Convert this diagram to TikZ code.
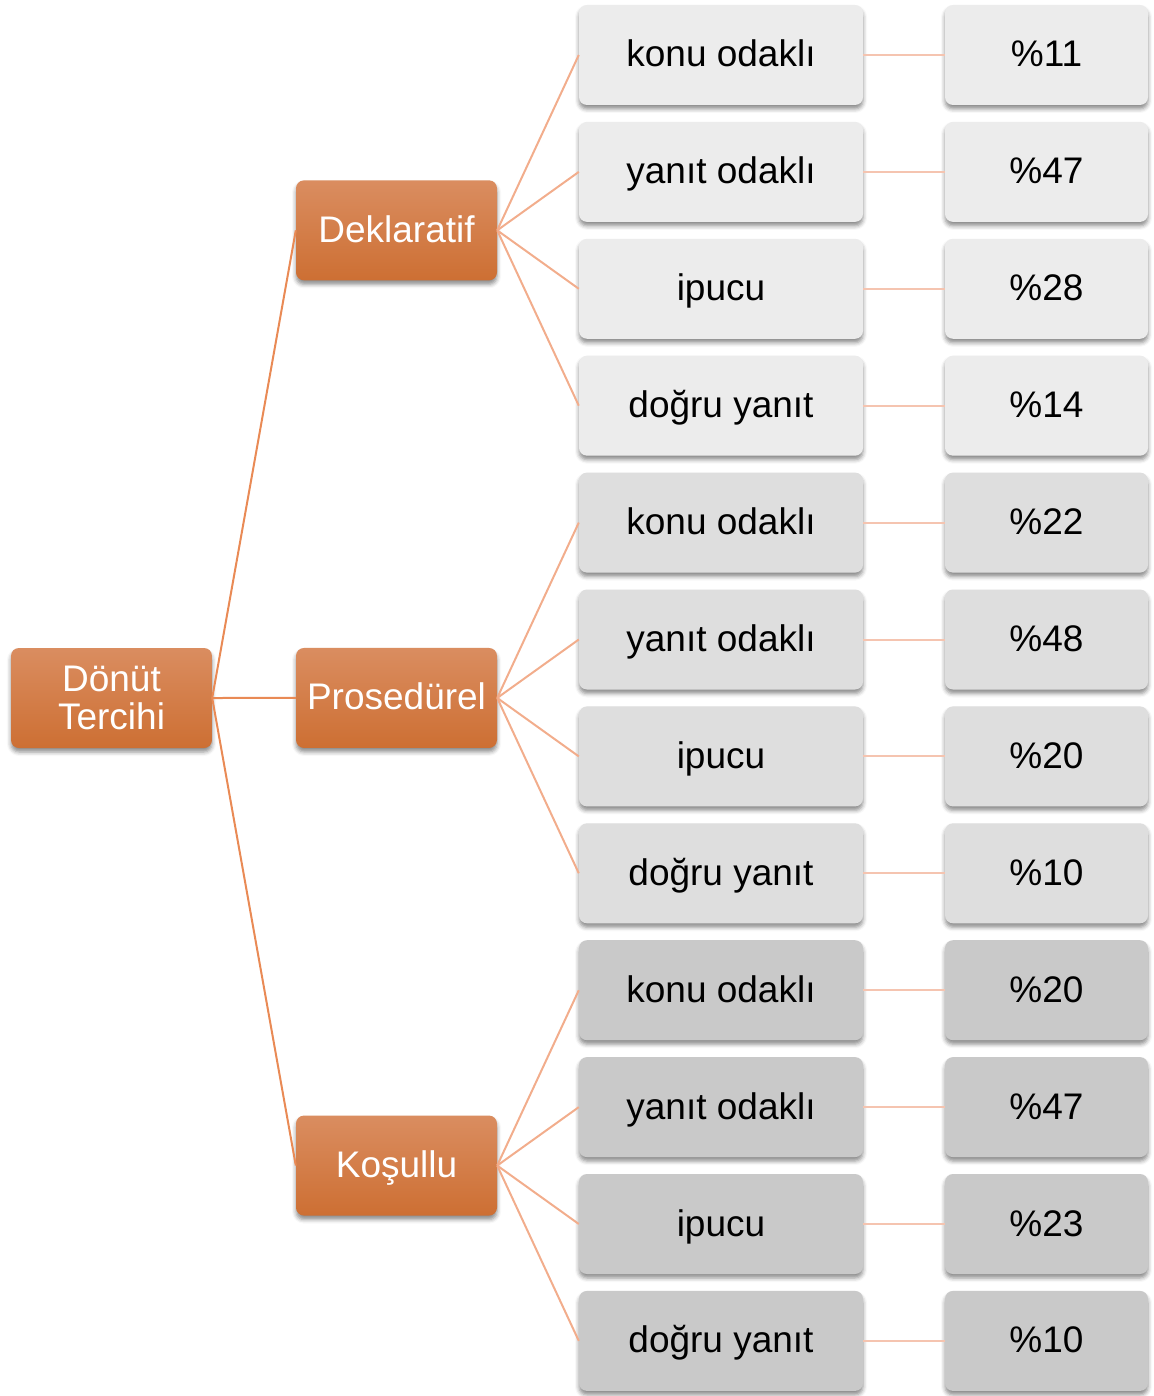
\documentclass[tikz,border=0pt]{standalone}
\usepackage{fontspec}
\setmainfont{Liberation Sans}
\usetikzlibrary{shadows.blur}

\definecolor{orTop}{HTML}{DA8D60}
\definecolor{orBot}{HTML}{CD6F33}
\definecolor{leafA}{HTML}{ECECEC}
\definecolor{leafB}{HTML}{DEDEDE}
\definecolor{leafC}{HTML}{C9C9C9}
\definecolor{rootLine}{HTML}{E98A55}
\definecolor{midLine}{HTML}{F2AD8C}
\definecolor{pctLine}{HTML}{F5C4B0}

\def\leaftext#1{\ifcase#1\or konu odaklı\or yanıt odaklı\or ipucu\or doğru yanıt\fi}

\tikzset{
  boxshadow/.style={blur shadow={shadow xshift=0pt, shadow yshift=-4pt,
      shadow blur radius=4pt, shadow opacity=45}},
  boxfont/.style={font=\fontsize{37}{38}\selectfont},
  oneline/.style={text height=26pt, text depth=2pt},
  orangebox/.style={rounded corners=8pt, top color=orTop, bottom color=orBot,
      draw=none, text=white, minimum width=201pt, minimum height=100pt,
      inner sep=0pt, align=center, boxshadow, boxfont},
  leafbox/.style={rounded corners=8pt, fill=#1, draw=none, text=black,
      minimum width=284pt, minimum height=100pt, inner sep=0pt, boxshadow,
      boxfont, oneline},
  pctbox/.style={rounded corners=8pt, fill=#1, draw=none, text=black,
      minimum width=203pt, minimum height=100pt, inner sep=0pt, boxshadow,
      boxfont, oneline},
  rootlink/.style={draw=rootLine, line width=2pt},
  midlink/.style={draw=midLine, line width=2pt},
  pctlink/.style={draw=pctLine, line width=2pt},
}

\begin{document}
\begin{tikzpicture}[x=1pt,y=-1pt]
\useasboundingbox (0,0) rectangle (1153,1396);

% root node
\node[orangebox] (root) at (111.5,698) {Dönüt\\Tercihi};

% three categories, each with four feedback kinds and their shares
\foreach \g/\lab/\fc/\plist in {1/Deklaratif/leafA/{11,47,28,14},
                                2/Prosedürel/leafB/{22,48,20,10},
                                3/Koşullu/leafC/{20,47,23,10}} {
  \pgfmathsetmacro\my{55+116.9*(4*(\g-1)+1.5)}
  \node[orangebox, oneline] (m\g) at (396.5,\my) {\lab};
  \draw[rootlink] (root.east) -- (m\g.west);
  \foreach \p [count=\i] in \plist {
    \pgfmathsetmacro\ly{55+116.9*(4*(\g-1)+\i-1)}
    \node[leafbox=\fc] (l\g\i) at (721,\ly) {\leaftext{\i}};
    \node[pctbox=\fc] (p\g\i) at (1046.5,\ly) {\%\p};
    \draw[midlink] (m\g.east) -- (l\g\i.west);
    \draw[pctlink] (l\g\i.east) -- (p\g\i.west);
  }
}
\end{tikzpicture}
\end{document}
